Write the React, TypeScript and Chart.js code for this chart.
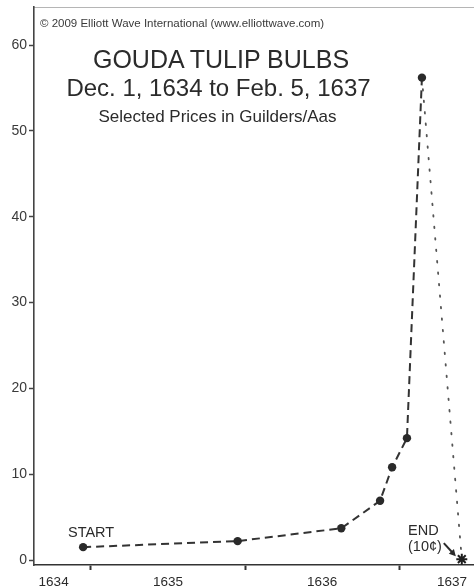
import React, { useEffect, useRef } from "react";
import { Chart, registerables } from "chart.js";

Chart.register(...registerables);

// ---- data ----
const bulbDates = [1634.952, 1635.952, 1636.623, 1636.874, 1636.952, 1637.048, 1637.145];
const bulbPrices = [1.5, 2.2, 3.7, 6.9, 10.8, 14.2, 56.2];
const crashDates = [1637.145, 1637.403];
const crashPrices = [56.2, 0.1];
const yearTickValues = [1635, 1636, 1637];
const yearLabels = ["1634", "1635", "1636", "1637"];
const yearLabelPositions = [1634.761, 1635.502, 1636.499, 1637.34];
const priceTicks = [0, 10, 20, 30, 40, 50, 60];
const xMin = 1634.634;
const xMax = 1637.482;
const yMin = -0.58;
const yMax = 64.43;

const FONT = "'Liberation Sans', Arial, Helvetica, sans-serif";
const INK = "#2b2b2b";

const arrowPlugin = {
  id: "endArrow",
  afterDatasetsDraw(chart: any) {
    const meta = chart.getDatasetMeta(1);
    const pt = meta && meta.data && meta.data[1];
    if (!pt) return;
    const ctx = chart.ctx;
    const x1 = pt.x - 18, y1 = pt.y - 16;
    const x2 = pt.x - 6, y2 = pt.y - 3;
    ctx.save();
    ctx.strokeStyle = INK;
    ctx.fillStyle = INK;
    ctx.lineWidth = 2;
    ctx.beginPath();
    ctx.moveTo(x1, y1);
    ctx.lineTo(x2 - 2, y2 - 2.2);
    ctx.stroke();
    const ang = Math.atan2(y2 - y1, x2 - x1);
    const L = 6.5, W = 3.5;
    ctx.beginPath();
    ctx.moveTo(x2, y2);
    ctx.lineTo(x2 - L * Math.cos(ang) + W * Math.sin(ang), y2 - L * Math.sin(ang) - W * Math.cos(ang));
    ctx.lineTo(x2 - L * Math.cos(ang) - W * Math.sin(ang), y2 - L * Math.sin(ang) + W * Math.cos(ang));
    ctx.closePath();
    ctx.fill();
    ctx.restore();
  },
};

const noPad = (s: any) => {
  s.paddingLeft = 0;
  s.paddingRight = 0;
};

export default function App() {
  const ref = useRef<HTMLCanvasElement | null>(null);

  useEffect(() => {
    document.body.style.margin = "0";
    const canvas = ref.current;
    if (!canvas) return;
    const chart = new Chart(canvas, {
      type: "line",
      data: {
        datasets: [
          {
            label: "Prices",
            data: bulbDates.map((d, i) => ({ x: d, y: bulbPrices[i] })),
            borderColor: "#333",
            borderWidth: 2,
            borderDash: [8, 5],
            pointRadius: 4.2,
            pointBackgroundColor: "#2a2a2a",
            pointBorderWidth: 0,
            tension: 0,
            clip: false,
            xAxisID: "x",
            yAxisID: "y",
          },
          {
            label: "Crash",
            data: crashDates.map((d, i) => ({ x: d, y: crashPrices[i] })),
            borderColor: "#555",
            borderWidth: 1.8,
            borderDash: [1.5, 10],
            borderCapStyle: "round",
            pointRadius: [0, 5.5],
            pointStyle: "star",
            pointBorderColor: "#1e1e1e",
            pointBorderWidth: 2,
            tension: 0,
            clip: false,
            xAxisID: "x",
            yAxisID: "y",
          },
        ],
      },
      options: {
        responsive: false,
        animation: false,
        devicePixelRatio: 1,
        layout: { padding: 0, autoPadding: false },
        plugins: { legend: { display: false }, tooltip: { enabled: false }, title: { display: false } },
        scales: {
          x: {
            type: "linear",
            position: "bottom",
            min: xMin,
            max: xMax,
            weight: 0,
            afterBuildTicks: (s: any) => {
              s.ticks = yearTickValues.map((v) => ({ value: v }));
            },
            afterFit: (s: any) => {
              s.height = 5;
              noPad(s);
            },
            grid: { drawOnChartArea: false, drawTicks: true, tickLength: 5, tickWidth: 2, tickColor: "#333" },
            border: { display: true, color: "#333", width: 1.6 },
            ticks: { display: false },
          },
          xl: {
            type: "linear",
            position: "bottom",
            min: xMin,
            max: xMax,
            weight: 1,
            afterBuildTicks: (s: any) => {
              s.ticks = yearLabelPositions.map((v) => ({ value: v }));
            },
            afterFit: (s: any) => {
              s.height = 18;
              noPad(s);
            },
            grid: { display: false, drawTicks: false },
            border: { display: false },
            ticks: {
              autoSkip: false,
              maxRotation: 0,
              padding: 4,
              color: INK,
              font: { family: FONT, size: 13.5 },
              callback: (_v: any, i: number) => yearLabels[i],
            },
          },
          xt: {
            type: "linear",
            position: "top",
            min: xMin,
            max: xMax,
            afterFit: (s: any) => {
              s.height = 7;
              noPad(s);
            },
            grid: { drawOnChartArea: false, drawTicks: false },
            border: { display: true, color: "#b5b5b5", width: 1, dash: [3, 2] },
            ticks: { display: false },
          },
          y: {
            type: "linear",
            position: "left",
            min: yMin,
            max: yMax,
            afterBuildTicks: (s: any) => {
              s.ticks = priceTicks.map((v) => ({ value: v }));
            },
            afterFit: (s: any) => {
              s.width = 34;
              s.paddingTop = 0;
              s.paddingBottom = 0;
            },
            grid: { drawOnChartArea: false, drawTicks: true, tickLength: 5, tickWidth: 1.5, tickColor: "#444" },
            border: { display: true, color: "#444", width: 1.6 },
            ticks: {
              padding: 2,
              color: "#3a3a3a",
              font: { family: FONT, size: 14 },
              callback: (v: any) => String(v),
            },
          },
        },
      },
      plugins: [arrowPlugin],
    } as any);
    return () => chart.destroy();
  }, []);

  const base: React.CSSProperties = {
    position: "absolute",
    fontFamily: FONT,
    color: INK,
    lineHeight: 1,
    whiteSpace: "nowrap",
  };

  return (
    <div style={{ position: "fixed", left: 0, top: 0, width: 474, height: 588, background: "#fff" }}>
      <canvas ref={ref} width={474} height={588} style={{ position: "absolute", left: 0, top: 0 }} />
      <div style={{ ...base, left: 40, top: 17.5, fontSize: 11.5, color: "#3a3a3a" }}>
        © 2009 Elliott Wave International (www.elliottwave.com)
      </div>
      <div style={{ ...base, left: 221, top: 46.8, fontSize: 25, transform: "translateX(-50%)" }}>
        GOUDA TULIP BULBS
      </div>
      <div style={{ ...base, left: 218.5, top: 76, fontSize: 24, transform: "translateX(-50%)" }}>
        Dec. 1, 1634 to Feb. 5, 1637
      </div>
      <div style={{ ...base, left: 217.5, top: 107.5, fontSize: 17, transform: "translateX(-50%)" }}>
        Selected Prices in Guilders/Aas
      </div>
      <div style={{ ...base, left: 68, top: 525.4, fontSize: 14.5 }}>START</div>
      <div style={{ ...base, left: 408, top: 523.4, fontSize: 14.5 }}>END</div>
      <div style={{ ...base, left: 408, top: 539, fontSize: 14.5 }}>(10¢)</div>
    </div>
  );
}
